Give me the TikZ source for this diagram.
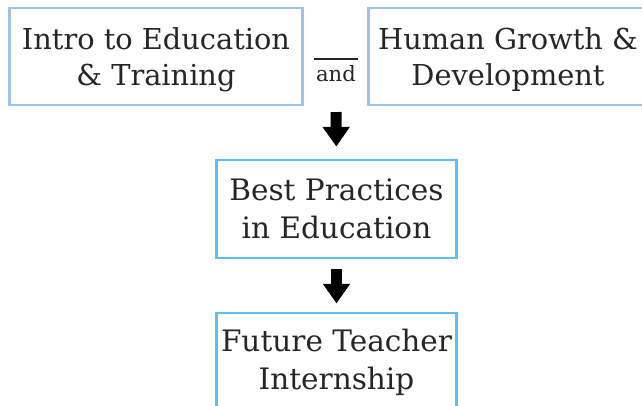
\documentclass[tikz,border=0pt]{standalone}
\usepackage{fontspec}
\setmainfont{DejaVu Serif}
\usepackage{xcolor}
\usetikzlibrary{arrows.meta, positioning}
\definecolor{paleblue}{HTML}{9DC3E6}
\definecolor{skyblue}{HTML}{5BC0EB}
\tikzset{
    course/.style={
        rectangle,
        draw=paleblue,
        line width=2.1pt,
        minimum width=7.3cm,
        minimum height=2.425cm,
        align=center,
        text depth=0pt,
        font=\fontsize{20.5}{25}\selectfont,
        text=black!85
    },
    stage/.style={
        course,
        draw=skyblue,
        minimum width=5.975cm,
        minimum height=2.45cm,
        text depth=,
        font=\fontsize{21}{27}\selectfont
    },
    bigarrow/.style={
        draw=black,
        line width=7.8pt,
        -{Triangle[width=18.5pt, length=14pt]}
    },
    joiner/.style={
        font=\fontsize{15}{17}\selectfont,
        minimum width=0.975cm,
        inner sep=1pt,
        text=black!85
    }
}

\begin{document}
\begin{tikzpicture}[x=0.025cm, y=-0.025cm]
\useasboundingbox (0,0) rectangle (642,406);

% First year courses
\node[course] (intro) at (156,56.5) {Intro to Education\\\& Training};
\node[course, minimum width=6.95cm] (growth) at (508,56.5) {Human Growth \&\\Development};

\node[joiner] (and) at (336,74) {and};
\draw[line width=1.4pt, black!85] ([yshift=4pt]and.north west) -- ([yshift=4pt]and.north east);

% Later courses
\node[stage] (best) at (336.5,209) {Best Practices\\in Education};
\node[stage] (intern) at (336.5,362) {Future Teacher\\Internship};

\coordinate (join) at (336,105);

\draw[bigarrow, shorten <=5pt, shorten >=8.5pt] (join) -- (best.north);
\draw[bigarrow, shorten <=7pt, shorten >=5.7pt] (best.south) -- (intern.north);

\end{tikzpicture}
\end{document}
